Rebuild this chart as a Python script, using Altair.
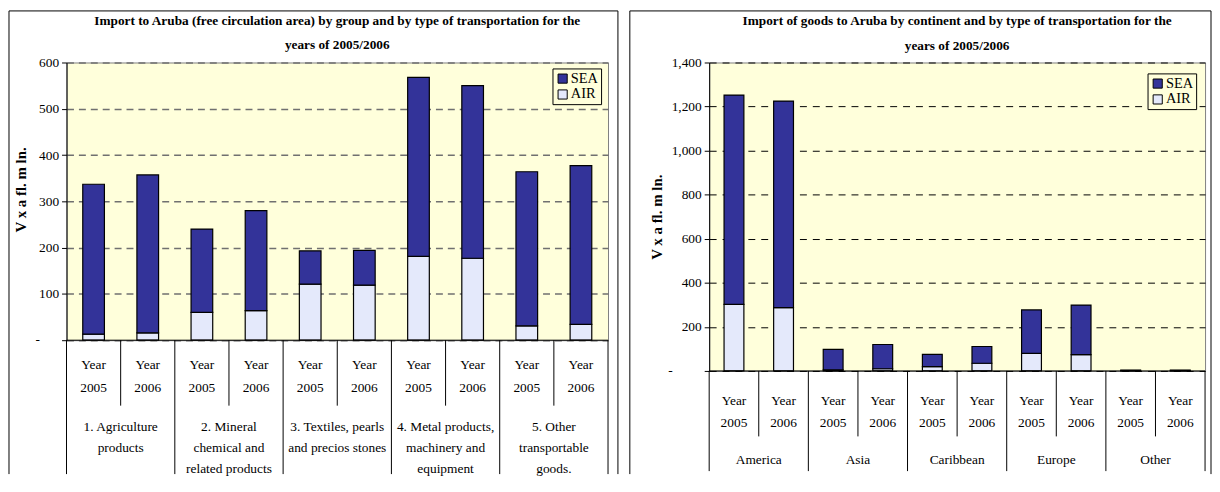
import altair as alt
import pandas as pd

FONT = "'Liberation Serif', 'Times New Roman', Times, 'DejaVu Serif', serif"
SEA_C = "#333399"
AIR_C = "#E4E9FB"
BG = "#FFFFDB"

years = ["2005", "2006"]
year_labels = ["Year\n2005", "Year\n2006"]
modes = ["SEA", "AIR"]
zero_label = "-"

# Left chart: import by product group (Afl. mln.)
left_title = "Import to Aruba (free circulation area) by group and by type of transportation for the\nyears of 2005/2006"
left_groups = ["1. Agriculture\nproducts", "2. Mineral\nchemical and\nrelated products",
               "3. Textiles, pearls\nand precios stones", "4. Metal products,\nmachinery and\nequipment",
               "5. Other\ntransportable\ngoods."]
left_sea_2005 = [324, 180, 72, 387, 333]
left_air_2005 = [13, 60, 121, 181, 31]
left_sea_2006 = [341, 216, 75, 373, 343]
left_air_2006 = [16, 64, 119, 177, 34]

# Right chart: import by continent (Afl. mln.)
right_title = "Import of goods to Aruba by continent and by type of transportation for the\nyears of 2005/2006"
right_groups = ["America", "Asia", "Caribbean", "Europe", "Other"]
right_sea_2005 = [950, 93, 55, 197, 3]
right_air_2005 = [302, 5, 20, 80, 1]
right_sea_2006 = [938, 110, 76, 225, 3]
right_air_2006 = [287, 10, 35, 74, 1]

axis_title = "V x a fl. m ln."


def panel(groups, sea05, air05, sea06, air06, title_text, ymax, ystep, W, H, lay):
    keys, rows, lab_rows = [], [], []
    for i, g in enumerate(groups):
        for y, sea, air, yl in zip(years, [sea05[i], sea06[i]], [air05[i], air06[i]], year_labels):
            k = f"{i}-{y}"
            keys.append(k)
            rows.append({"key": k, "mode": "AIR", "value": air, "ord": 0})
            rows.append({"key": k, "mode": "SEA", "value": sea, "ord": 1})
            lab_rows.append({"key": k, "label": yl})
    bars_df = pd.DataFrame(rows)
    lab_df = pd.DataFrame(lab_rows)
    grp_df = pd.DataFrame({"first": keys[0::2], "second": keys[1::2], "group": groups})
    one = pd.DataFrame({"a": [0]})
    title_df = pd.DataFrame({"t": [title_text]})
    zero_df = pd.DataFrame({"t": [zero_label]})

    bar_x = alt.Scale(type="band", domain=keys, paddingInner=0.6, paddingOuter=0.3)
    lab_x = alt.Scale(type="band", domain=keys, paddingInner=0, paddingOuter=0)

    axis_kw = dict(
        values=list(range(0, ymax + 1, ystep)),
        labelExpr="datum.value == 0 ? '' : format(datum.value, ',')",
        title=axis_title, titleFont=FONT, titleFontSize=15, titleFontWeight="bold",
        titleColor="black", titlePadding=lay["title_pad"],
        labelFont=FONT, labelFontSize=13.5, labelColor="black", labelPadding=3,
        tickColor="black", tickSize=5, domainColor="black", domainWidth=1,
        grid=True, gridColor=lay["grid_color"], gridDash=lay["grid_dash"], gridWidth=lay["grid_width"],
        labelOverlap=False, labelFlush=False,
    )
    if lay.get("titleY") is not None:
        axis_kw["titleY"] = lay["titleY"]

    bars = alt.Chart(bars_df).mark_bar(stroke="black", strokeWidth=1.2).encode(
        x=alt.X("key:N", scale=bar_x, axis=None),
        y=alt.Y("value:Q", stack="zero", scale=alt.Scale(domain=[0, ymax], nice=False),
                axis=alt.Axis(**axis_kw)),
        color=alt.Color("mode:N", scale=alt.Scale(domain=modes, range=[SEA_C, AIR_C]),
                        legend=alt.Legend(title=None, orient="none", legendX=lay["legX"], legendY=lay["legY"],
                                          direction="vertical", fillColor=BG, strokeColor="black",
                                          padding=3, symbolType="square", symbolSize=85,
                                          symbolStrokeColor="black", symbolStrokeWidth=1,
                                          labelFont=FONT, labelFontSize=lay["leg_fs"], labelColor="black",
                                          labelOffset=1, rowPadding=1)),
        order=alt.Order("ord:Q"),
    )

    base_line = alt.Chart(one).mark_rule(color="black", strokeWidth=1).encode(
        x=alt.value(0), x2=alt.value(W), y=alt.value(H))

    zero_text = alt.Chart(zero_df).mark_text(
        font=FONT, fontSize=13.5, color="black", align="center", baseline="middle").encode(
        x=alt.value(lay["dash_x"]), y=alt.value(H), text="t:N")

    year_text = alt.Chart(lab_df).mark_text(
        font=FONT, fontSize=13.5, color="black", lineBreak="\n", lineHeight=lay["year_lh"],
        align="center", baseline="middle").encode(
        x=alt.X("key:N", scale=lab_x, axis=None),
        y=alt.value(H + lay["year_dy"]),
        text="label:N")

    year_sep = alt.Chart(grp_df).mark_rule(color="black", strokeWidth=1).encode(
        x=alt.X("second:N", bandPosition=0, scale=lab_x, axis=None),
        y=alt.value(H), y2=alt.value(H + lay["year_sep"]))

    grp_end = alt.Chart(grp_df).mark_rule(color="black", strokeWidth=1).encode(
        x=alt.X("second:N", bandPosition=1, scale=lab_x, axis=None),
        y=alt.value(H), y2=alt.value(H + lay["grp_sep"]))

    grp_start = alt.Chart(grp_df.iloc[:1]).mark_rule(color="black", strokeWidth=1).encode(
        x=alt.X("first:N", bandPosition=0, scale=lab_x, axis=None),
        y=alt.value(H), y2=alt.value(H + lay["grp_sep"]))

    grp_text = alt.Chart(grp_df).mark_text(
        font=FONT, fontSize=13.5, color="black", lineBreak="\n", lineHeight=lay["grp_lh"],
        align="center", baseline="middle").encode(
        x=alt.X("first:N", bandPosition=1, scale=lab_x, axis=None),
        y=alt.value(H + lay["grp_dy"]),
        text="group:N")

    title = alt.Chart(title_df).mark_text(
        font=FONT, fontSize=lay["title_fs"], fontWeight="bold", color="black", lineBreak="\n",
        lineHeight=lay["title_lh"], align="center", baseline="middle").encode(
        x=alt.value(W / 2), y=alt.value(lay["title_dy"]), text="t:N")

    fl, fr, ft, fb = lay["frame_l"], W + lay["frame_r"], lay["frame_t"], H + lay["frame_b"]
    frame_left = alt.Chart(one).mark_rule(color="black").encode(
        x=alt.value(fl), y=alt.value(ft), y2=alt.value(fb))
    frame_top = alt.Chart(one).mark_rule(color="black").encode(
        x=alt.value(fl), x2=alt.value(fr), y=alt.value(ft))
    frame_right = alt.Chart(one).mark_rule(color="black").encode(
        x=alt.value(fr), y=alt.value(ft), y2=alt.value(fb))

    return alt.layer(
        bars, base_line, zero_text, year_sep, grp_end, grp_start, year_text, grp_text, title,
        frame_left, frame_top, frame_right,
    ).resolve_scale(x="independent").properties(width=W, height=H)


W1, H1 = 546, 280
W2, H2 = 500, 311

left = panel(left_groups, left_sea_2005, left_air_2005, left_sea_2006, left_air_2006, left_title,
             600, 100, W1, H1,
             dict(dash_x=-29, title_pad=10, titleY=128, grid_color="#707070", grid_dash=[7, 5],
                  grid_width=1.5, legX=W1 - 56, legY=6, leg_fs=14.5,
                  year_lh=23, year_dy=25, year_sep=66, grp_sep=135, grp_lh=21, grp_dy=88,
                  title_fs=13.4, title_lh=24, title_dy=-42,
                  frame_l=-58, frame_r=10, frame_t=-52, frame_b=135))

right = panel(right_groups, right_sea_2005, right_air_2005, right_sea_2006, right_air_2006, right_title,
              1400, 200, W2, H2,
              dict(dash_x=-39, title_pad=7, titleY=None, grid_color="black", grid_dash=[7, 6],
                   grid_width=1, legX=W2 - 58, legY=11, leg_fs=14.5,
                   year_lh=23, year_dy=30, year_sep=66, grp_sep=101, grp_lh=21, grp_dy=90,
                   title_fs=13.4, title_lh=25, title_dy=-42,
                   frame_l=-80, frame_r=6, frame_t=-52, frame_b=104))

chart = alt.hconcat(left, right, spacing=10).resolve_scale(
    color="independent").resolve_legend(color="independent").properties(
    padding=0, background="white").configure_view(fill=BG, stroke="#808080", strokeWidth=1)

chart.save("out.html", embed_options={"renderer": "svg", "actions": False})
